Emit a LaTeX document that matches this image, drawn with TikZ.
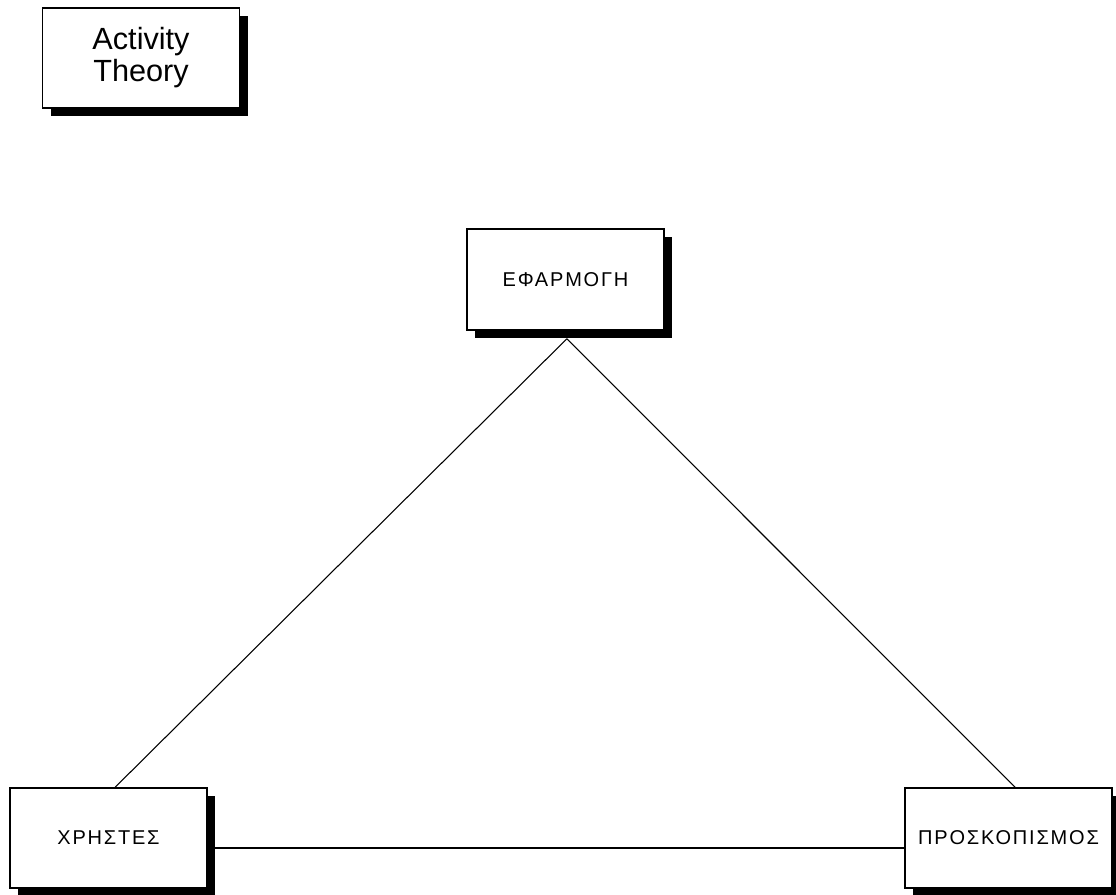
\documentclass[tikz,border=0pt]{standalone}
\usepackage{fontspec}
\setmainfont{Liberation Sans}
\newfontfamily\labelfont[LetterSpace=9]{Liberation Sans}
\usetikzlibrary{shadows}
\begin{document}
\begin{tikzpicture}[x=0.75pt, y=-0.75pt,
  shadowbox/.style={draw=black, line width=1.2pt, fill=white, inner sep=0pt,
    drop shadow={shadow xshift=6pt, shadow yshift=-6pt, fill=black, opacity=1}},
  entity/.style={shadowbox, minimum height=75pt, font=\labelfont\fontsize{15}{17}\selectfont},
  link/.style={draw=black, line width=0.8pt}]
\useasboundingbox (0,0) rectangle (1116,894);
% title box
\node[shadowbox, minimum width=147.75pt, minimum height=75pt, align=center,
      font=\fontsize{23}{24}\selectfont] (title) at (141,58) {Activity\\Theory};
% the three corners of the triangle
\node[entity, minimum width=147.75pt, minimum height=75.75pt] (app) at (565.5,279.5) {ΕΦΑΡΜΟΓΗ};
\node[entity, minimum width=147.75pt] (users) at (108.5,838) {ΧΡΗΣΤΕΣ};
\node[entity, minimum width=155.25pt] (scouts) at (1008.5,838) {ΠΡΟΣΚΟΠΙΣΜΟΣ};
% connectors
\draw[link] ([xshift=1pt,yshift=-6pt]app.south) -- ([xshift=5pt]users.north);
\draw[link] ([xshift=1pt,yshift=-6pt]app.south) -- ([xshift=5pt]scouts.north);
\draw[link] ([yshift=-7.5pt]users.east) -- ([yshift=-7.5pt]scouts.west);
\end{tikzpicture}
\end{document}
